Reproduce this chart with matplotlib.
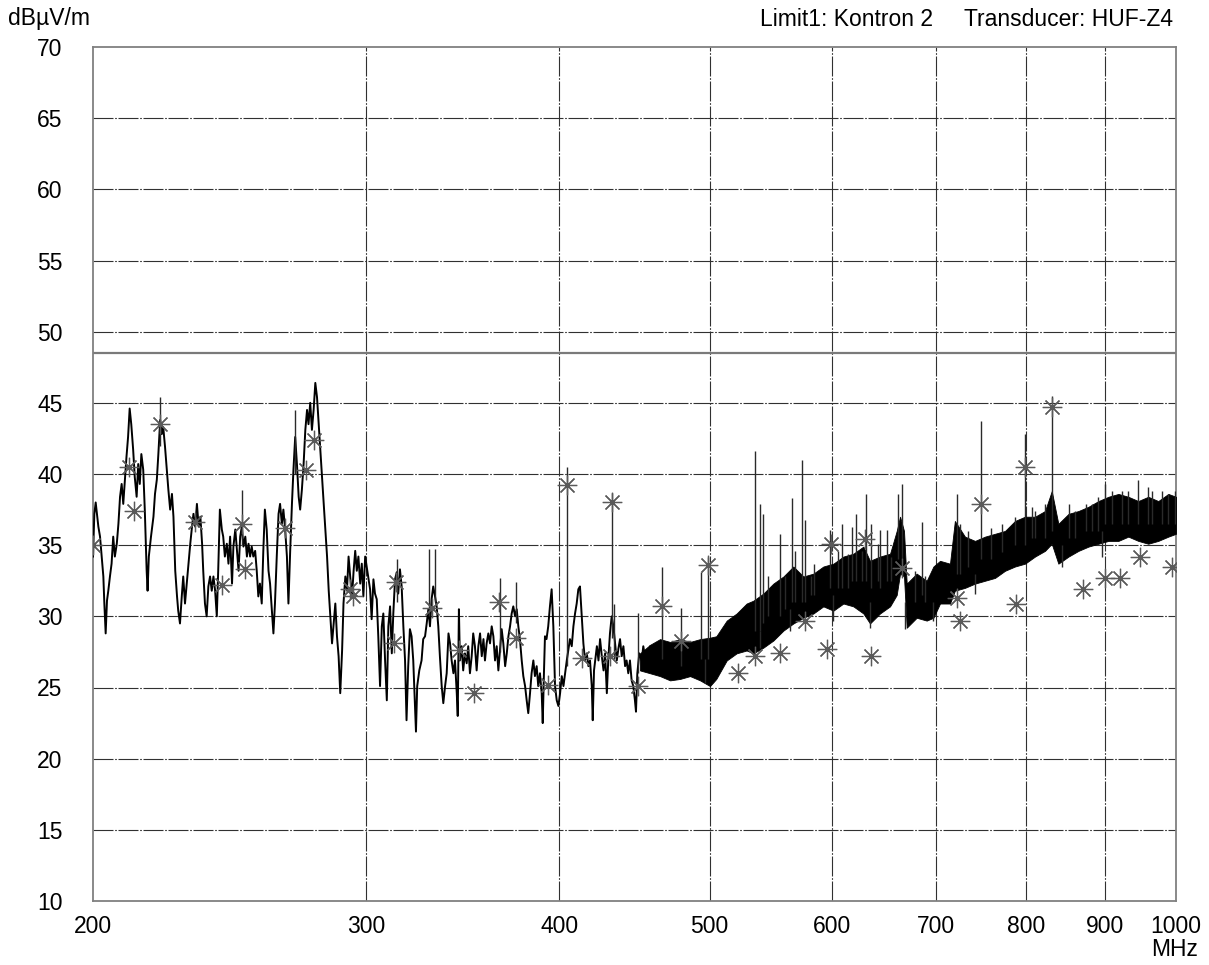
import matplotlib
matplotlib.use("Agg")
import matplotlib.pyplot as plt
from matplotlib.ticker import FixedLocator, FixedFormatter, NullLocator

plt.rcParams["font.family"] = ["Liberation Sans", "DejaVu Sans"]

# axis setup
X_TICKS = [200, 300, 400, 500, 600, 700, 800, 900, 1000]
X_TICK_LABELS = ["200", "300", "400", "500", "600", "700", "800", "900", "1000"]
Y_TICKS = [10, 15, 20, 25, 30, 35, 40, 45, 50, 55, 60, 65, 70]
LIMIT_LEVEL = 48.5

TRACE_FREQ = [
    200.0, 200.4, 200.8, 201.6, 202.1, 202.6, 203.1, 203.4, 203.8, 204.2,
    204.6, 205.1, 205.6, 206.1, 206.6, 207.2, 207.7, 208.2, 208.7, 209.2,
    209.7, 210.2, 210.7, 211.2, 211.7, 212.3, 212.8, 213.4, 213.9, 214.4,
    214.9, 215.5, 216.0, 216.6, 216.9, 217.3, 218.0, 218.8, 219.3, 219.9,
    220.4, 221.0, 221.5, 222.0, 222.6, 223.2, 223.7, 224.3, 224.9, 225.4,
    226.0, 226.6, 227.0, 227.6, 228.2, 228.7, 229.3, 229.9, 230.5, 231.1,
    231.7, 232.2, 232.8, 233.4, 234.0, 234.6, 235.2, 235.6, 236.2, 236.8,
    237.4, 238.0, 238.6, 239.2, 239.8, 240.4, 240.9, 241.5, 242.2, 242.7,
    243.3, 244.0, 244.6, 245.2, 245.9, 246.4, 247.1, 247.7, 248.3, 248.9,
    249.5, 250.1, 250.8, 251.4, 252.0, 252.6, 253.2, 253.8, 254.5, 255.1,
    255.7, 256.3, 257.0, 257.6, 258.2, 258.9, 259.6, 260.2, 260.9, 261.5,
    262.1, 262.8, 263.5, 264.1, 264.8, 265.4, 266.1, 266.8, 267.4, 268.1,
    268.8, 269.4, 270.1, 270.8, 271.5, 272.1, 272.8, 273.5, 274.2, 274.9,
    275.5, 276.2, 276.9, 277.6, 278.3, 279.0, 279.7, 280.4, 281.1, 281.8,
    282.5, 283.2, 283.9, 284.6, 285.3, 286.0, 286.7, 287.4, 288.1, 288.8,
    289.6, 290.2, 291.0, 291.7, 292.4, 293.1, 293.9, 294.6, 295.3, 296.0,
    296.7, 297.5, 298.2, 298.9, 299.7,
    301.9, 302.6, 303.4, 304.1, 304.9, 305.6, 306.4, 307.2, 307.9, 308.7,
    309.5, 310.2, 311.0, 311.8, 312.5, 313.3, 314.1, 314.8, 315.6, 316.4,
    317.2, 318.0, 318.7, 319.5, 320.3, 321.1, 321.9, 322.7, 323.2, 323.8,
    324.8, 325.9, 326.7, 327.6, 328.4, 329.2, 330.0, 330.8, 331.6, 332.5,
    333.3, 334.1, 334.9, 335.8, 336.6, 337.5, 338.3, 339.2, 340.0, 340.8,
    341.7, 342.5, 343.4, 343.9, 344.5, 345.0, 345.9, 346.7, 347.6, 348.5,
    349.3, 350.2, 351.1, 351.9, 352.8, 353.7, 354.6, 355.5, 356.4, 357.3,
    358.1, 359.0, 359.9, 360.8, 361.7, 362.6, 363.5, 364.4, 365.3, 366.2,
    367.1, 368.0, 369.0, 369.9, 370.8, 371.7, 372.6, 373.5, 374.5, 375.4,
    376.3, 377.2, 378.2, 379.1, 380.1, 381.0, 381.9, 382.9, 383.8, 384.8,
    385.7, 386.7, 387.6, 388.6, 389.6, 390.2, 390.9, 391.5, 392.4, 393.4,
    394.4, 395.4, 396.4, 397.4, 398.4, 399.4, 400.4, 401.4, 402.4, 403.4,
    404.4, 405.4, 406.3, 407.4, 408.4, 409.4, 410.4, 411.4, 412.4, 413.5,
    414.5, 415.5, 416.6, 417.6, 418.6, 419.7, 420.3, 421.1, 422.9, 423.9,
    424.9, 426.0, 427.1, 428.1, 429.2, 430.1, 431.2, 432.3, 433.4, 434.5,
    435.6, 436.6, 437.7, 438.8, 439.9, 441.0, 442.0, 443.1, 444.2, 445.3,
    446.4, 447.5, 448.2, 449.1, 450.4, 452.0, 453.1, 454.2, 455.4, 456.5,
    457.7, 458.8, 459.9, 461.1, 462.2, 463.4, 464.5, 465.7, 466.8, 468.0,
    469.1, 470.3, 471.5, 472.7, 473.8, 475.0, 476.2, 477.3, 478.5, 479.7,
    480.9, 482.1, 483.3, 484.5, 485.7, 486.9, 488.1, 489.3, 490.5, 491.8,
    493.0, 494.2, 495.4, 496.7, 497.9, 499.1, 500.3,
]
TRACE_LEVEL = [
    34.2, 37.2, 38.0, 36.3, 35.6, 34.2, 32.8, 30.9, 28.8, 31.1,
    31.8, 32.8, 33.7, 35.6, 34.2, 35.1, 36.5, 38.4, 39.3, 37.9,
    39.6, 41.2, 42.6, 44.6, 43.5, 41.7, 39.8, 38.4, 40.7, 39.3,
    41.4, 40.3, 37.5, 33.2, 31.8, 34.2, 35.6, 37.0, 38.6, 39.6,
    41.4, 43.8, 42.8, 43.3, 41.9, 40.3, 38.9, 37.5, 38.6, 37.0,
    33.2, 31.4, 30.4, 29.5, 31.4, 32.8, 30.9, 32.3, 33.7, 35.1,
    36.3, 37.2, 36.3, 37.9, 36.3, 37.0, 35.1, 33.2, 30.9, 30.0,
    32.1, 32.8, 31.8, 32.8, 31.8, 30.0, 33.2, 37.5, 36.1, 35.6,
    34.2, 35.1, 33.7, 35.6, 32.3, 34.9, 36.1, 34.6, 33.2, 35.6,
    36.3, 34.9, 35.6, 34.2, 35.1, 34.2, 34.9, 34.2, 34.6, 33.2,
    31.4, 32.3, 30.9, 34.6, 37.5, 36.1, 33.2, 32.3, 30.4, 28.8,
    30.9, 34.2, 37.2, 37.9, 36.5, 37.5, 36.1, 34.2, 30.9, 34.6,
    37.9, 40.3, 42.6, 40.7, 38.4, 37.5, 38.9, 40.7, 43.1, 44.5,
    43.5, 45.0, 43.1, 44.5, 46.4, 45.4, 43.5, 41.7, 39.8, 37.9,
    36.1, 34.2, 31.8, 30.0, 28.1, 29.5, 30.9, 28.6, 27.2, 24.6,
    27.6, 30.9, 32.8, 31.8, 34.2, 32.8, 31.4, 33.2, 34.6, 33.2,
    34.2, 32.3, 33.7, 31.4, 34.2,
    31.9, 29.8, 32.6, 31.6, 31.2, 28.6, 25.1, 29.3, 30.2, 26.9,
    24.1, 29.3, 30.7, 27.4, 30.2, 32.6, 33.1, 31.6, 33.3, 32.1,
    29.3, 26.9, 22.7, 26.5, 29.1, 28.6, 26.9, 23.7, 21.9, 25.1,
    26.2, 26.9, 28.4, 28.6, 29.5, 30.5, 29.3, 31.2, 32.1, 31.4,
    30.7, 29.3, 27.2, 25.1, 23.9, 25.1, 26.0, 28.8, 28.1, 26.9,
    26.0, 26.9, 24.6, 23.0, 30.5, 26.9, 27.9, 26.2, 27.4, 26.7,
    27.9, 26.0, 27.2, 28.8, 27.9, 26.2, 27.9, 28.8, 27.2, 28.4,
    26.9, 28.1, 28.8, 28.1, 29.3, 28.6, 26.9, 27.9, 26.2, 27.7,
    29.1, 28.1, 26.5, 27.4, 28.6, 29.3, 30.2, 30.7, 30.0, 30.5,
    29.3, 28.4, 26.9, 25.8, 25.1, 24.1, 23.2, 24.6, 26.0, 26.9,
    25.8, 26.5, 25.1, 26.0, 24.6, 22.5, 26.0, 28.6, 28.4, 29.3,
    30.7, 31.9, 29.3, 25.1, 24.1, 23.7, 24.6, 25.8, 25.1, 26.0,
    26.9, 27.7, 28.4, 27.9, 29.3, 30.2, 30.9, 31.9, 32.1, 30.0,
    28.1, 26.9, 27.4, 26.5, 26.9, 25.1, 22.7, 26.2, 27.9, 26.9,
    28.4, 27.2, 26.2, 27.4, 24.6, 26.9, 28.8, 30.0, 29.3, 28.1,
    26.9, 27.7, 28.4, 27.2, 27.9, 26.5, 26.9, 26.0, 26.9, 25.5,
    25.1, 24.1, 23.3, 26.0, 27.4, 26.9, 27.9, 27.2, 26.7, 27.4,
    27.9, 26.9, 27.7, 26.9, 27.9, 26.7, 27.4, 26.9, 26.5, 26.9,
    26.2, 26.9, 26.0, 26.5, 25.8, 26.7, 26.0, 26.9, 26.2, 27.2,
    26.5, 26.9, 26.0, 26.7, 25.8, 26.5, 26.9, 26.2, 27.2, 26.5,
    27.4, 26.9, 27.9, 26.9, 27.7, 26.7, 27.4,
]

# dense noise band 450-1000 MHz: lower / upper envelope
BAND_FREQ = [
    450.9, 457.7, 464.5, 471.5, 478.5, 485.7, 493.0, 500.3, 505.0, 512.9,
    520.5, 528.3, 533.6, 541.6, 549.7, 558.0, 566.3, 574.8, 583.4, 592.1,
    601.0, 610.0, 619.1, 628.4, 634.6, 644.1, 653.8, 660.3, 663.6, 667.5,
    670.2, 680.2, 690.4, 697.3, 704.2, 714.7, 719.9, 730.8, 741.8, 752.9,
    764.2, 775.6, 787.2, 799.0, 811.0, 823.1, 831.4, 839.6, 852.4, 865.1,
    878.1, 891.2, 904.5, 918.0, 931.6, 945.5, 959.6, 974.0, 988.7, 1000.0,
]
BAND_UPPER = [
    27.4, 28.0, 28.4, 28.2, 28.4, 28.2, 28.4, 28.5, 28.6, 29.7,
    30.2, 30.9, 31.1, 31.6, 32.3, 32.8, 33.5, 32.8, 33.0, 33.5,
    33.7, 34.2, 34.4, 34.9, 33.9, 34.2, 34.4, 36.0, 37.0, 36.0,
    32.3, 33.0, 32.5, 33.5, 33.9, 33.7, 36.7, 35.6, 35.3, 35.6,
    35.8, 36.0, 36.7, 37.0, 37.0, 37.4, 38.8, 36.5, 37.2, 37.4,
    37.7, 38.1, 38.4, 38.6, 38.4, 38.1, 38.4, 38.1, 38.6, 38.4,
]
BAND_LOWER = [
    26.2, 26.0, 25.8, 25.5, 25.6, 25.8, 25.5, 25.1, 25.6, 26.9,
    27.4, 27.6, 27.4, 27.8, 28.3, 29.0, 29.5, 29.9, 30.2, 30.7,
    30.4, 30.9, 30.7, 30.2, 29.5, 30.2, 30.7, 31.5, 33.0, 32.8,
    29.2, 29.9, 29.7, 29.9, 30.9, 30.9, 31.8, 32.0, 32.3, 32.5,
    32.7, 33.2, 33.5, 33.7, 34.2, 34.6, 35.1, 33.7, 34.2, 34.6,
    34.9, 35.1, 35.3, 35.3, 35.6, 35.3, 35.1, 35.3, 35.6, 35.8,
]

# narrow spikes sticking out of the trace (upwards and downwards)
SPIKE_FREQ = [
    221.0, 249.5, 270.1, 314.1, 329.7, 332.5, 366.2, 375.0, 404.4, 432.3,
    434.1, 449.4, 465.7, 479.2, 493.7, 499.1, 535.0, 538.9, 541.6, 555.2,
    564.8, 567.6, 573.9, 575.8, 598.0, 608.5, 617.5, 622.0, 630.7, 636.0,
    644.1, 650.5, 662.0, 665.9, 685.9, 721.7, 725.4, 734.5, 748.4, 772.0,
    787.2, 799.0, 811.0, 832.0, 860.9, 882.2, 899.9, 922.5, 945.5, 964.5,
    988.7, 998.7,
    759.8, 807.0, 823.1, 852.4, 875.0, 891.2, 909.0, 931.6, 959.6, 979.0,
    545.6, 559.4, 581.1, 584.0, 605.5, 614.5, 626.8, 642.5, 655.1, 678.3,
    688.5,
    741.8, 844.3, 895.5, 496.9, 538.9, 563.5, 601.0, 634.6, 668.8, 697.3,
]
SPIKE_TOP = [
    45.4, 38.9, 44.5, 34.0, 34.7, 34.7, 32.7, 32.4, 40.5, 38.7,
    30.9, 30.2, 33.5, 30.6, 33.1, 34.2, 41.6, 37.9, 37.2, 35.8,
    38.3, 34.6, 41.0, 36.8, 36.1, 36.5, 36.3, 37.2, 38.6, 36.5,
    36.1, 36.1, 38.6, 39.3, 36.6, 38.6, 36.5, 36.0, 43.7, 36.5,
    37.0, 42.8, 37.4, 45.5, 37.4, 37.9, 39.3, 38.8, 39.6, 38.8,
    38.6, 38.8,
    36.2, 37.7, 37.9, 37.9, 37.9, 38.4, 38.8, 38.8, 39.1, 38.8,
    32.8, 32.8, 32.8, 33.7, 34.6, 34.4, 34.6, 35.1, 34.2, 33.2,
    32.8,
    33.0, 35.0, 36.0, 27.0, 29.0, 30.5, 31.5, 31.0, 31.0, 31.0,
]
SPIKE_BASE = [
    42.0, 35.0, 40.0, 31.0, 30.0, 31.0, 27.5, 29.5, 26.5, 28.5,
    27.0, 26.0, 27.0, 26.5, 27.0, 27.0, 29.0, 29.0, 29.5, 30.0,
    31.0, 31.0, 31.0, 31.0, 32.0, 32.0, 32.5, 32.5, 32.5, 32.0,
    32.0, 32.5, 34.0, 34.0, 31.5, 33.0, 33.0, 33.5, 34.0, 34.5,
    35.0, 35.0, 35.5, 36.0, 35.5, 36.0, 36.5, 36.5, 36.5, 36.5,
    36.5, 36.5,
    34.0, 35.5, 35.5, 35.5, 36.0, 36.0, 36.5, 36.5, 36.5, 36.5,
    30.0, 30.5, 31.5, 31.5, 32.0, 32.0, 32.5, 32.5, 32.5, 31.0,
    31.0,
    31.6, 33.5, 34.2, 25.3, 27.8, 29.0, 29.7, 29.2, 29.1, 29.7,
]

# final measurement points (asterisks)
PEAK_FREQ = [
    200.0, 211.0, 212.7, 220.9, 232.7, 242.2, 249.4, 250.7, 266.0, 274.4,
    277.8, 293.0, 294.2, 312.8, 313.9, 331.0, 344.5, 352.3, 365.6, 375.0,
    393.3, 404.5, 413.5, 431.3, 432.4, 449.3, 465.6, 479.2, 499.1, 521.8,
    534.9, 555.2, 576.2, 595.6, 598.9, 629.6, 636.0, 665.1, 722.0, 725.6,
    748.4, 788.4, 799.0, 832.0, 871.0, 899.8, 920.0, 947.8, 993.6,
]
PEAK_LEVEL = [
    35.0, 40.5, 37.4, 43.5, 36.6, 32.2, 36.5, 33.3, 36.2, 40.3,
    42.4, 31.9, 31.4, 28.1, 32.4, 30.6, 27.6, 24.6, 31.0, 28.5,
    25.2, 39.2, 27.1, 27.2, 38.0, 25.1, 30.7, 28.3, 33.6, 26.0,
    27.2, 27.4, 29.7, 27.7, 35.1, 35.4, 27.2, 33.4, 31.3, 29.7,
    37.9, 30.9, 40.5, 44.7, 31.9, 32.7, 32.7, 34.2, 33.5,
]

FIG_W, FIG_H = 1209, 965
AX_LEFT, AX_RIGHT, AX_TOP, AX_BOTTOM = 93, 1176, 47, 901
GRID_STYLE = (0, (18, 1.5, 1.5, 1.5))
FONT_SIZE = 16.5


def setup_axes(fig):
    ax = fig.add_axes([
        AX_LEFT / FIG_W,
        1 - AX_BOTTOM / FIG_H,
        (AX_RIGHT - AX_LEFT) / FIG_W,
        (AX_BOTTOM - AX_TOP) / FIG_H,
    ])
    ax.set_xscale("log")
    ax.set_xlim(200, 1000)
    ax.set_ylim(10, 70)
    ax.xaxis.set_major_locator(FixedLocator(X_TICKS))
    ax.xaxis.set_major_formatter(FixedFormatter(X_TICK_LABELS))
    ax.xaxis.set_minor_locator(NullLocator())
    ax.set_yticks(Y_TICKS)
    ax.tick_params(axis="both", length=0, labelsize=FONT_SIZE, colors="black")
    ax.tick_params(axis="y", pad=22)
    ax.tick_params(axis="x", pad=10)

    for spine in ax.spines.values():
        spine.set_color("#808080")
        spine.set_linewidth(1.3)

    for y in Y_TICKS[1:-1]:
        ax.axhline(y, color="#303030", lw=0.8, ls=GRID_STYLE, zorder=1)
    for x in X_TICKS[1:-1]:
        ax.axvline(x, color="#303030", lw=0.8, ls=GRID_STYLE, zorder=1)
    return ax


def draw_measurement(ax):
    ax.axhline(LIMIT_LEVEL, color="#7a7a7a", lw=1.6, zorder=2)
    ax.fill_between(BAND_FREQ, BAND_LOWER, BAND_UPPER,
                    color="black", lw=0.6, zorder=3)
    ax.plot(TRACE_FREQ, TRACE_LEVEL, color="black", lw=1.4, zorder=3)
    ax.vlines(SPIKE_FREQ, SPIKE_BASE, SPIKE_TOP,
              color="#2a2a2a", lw=1.0, zorder=3)
    ax.plot(PEAK_FREQ, PEAK_LEVEL, ls="none", marker=(8, 2, 0), ms=14,
            mec="#5a5a5a", mew=0.9, zorder=4)


def main() -> None:
    fig = plt.figure(figsize=(FIG_W / 100, FIG_H / 100), dpi=100)
    ax = setup_axes(fig)
    draw_measurement(ax)

    fig.text(8 / FIG_W, 1 - 18 / FIG_H, "dBµV/m", fontsize=FONT_SIZE,
             ha="left", va="center")
    fig.text(1175 / FIG_W, 1 - 950 / FIG_H, "MHz", fontsize=FONT_SIZE,
             ha="center", va="center")
    fig.text(760 / FIG_W, 1 - 20 / FIG_H, "Limit1: Kontron 2",
             fontsize=FONT_SIZE, ha="left", va="center")
    fig.text(1173 / FIG_W, 1 - 20 / FIG_H, "Transducer: HUF-Z4",
             fontsize=FONT_SIZE, ha="right", va="center")

    fig.savefig("out.png", dpi=100)
    plt.close(fig)


if __name__ == "__main__":
    main()
